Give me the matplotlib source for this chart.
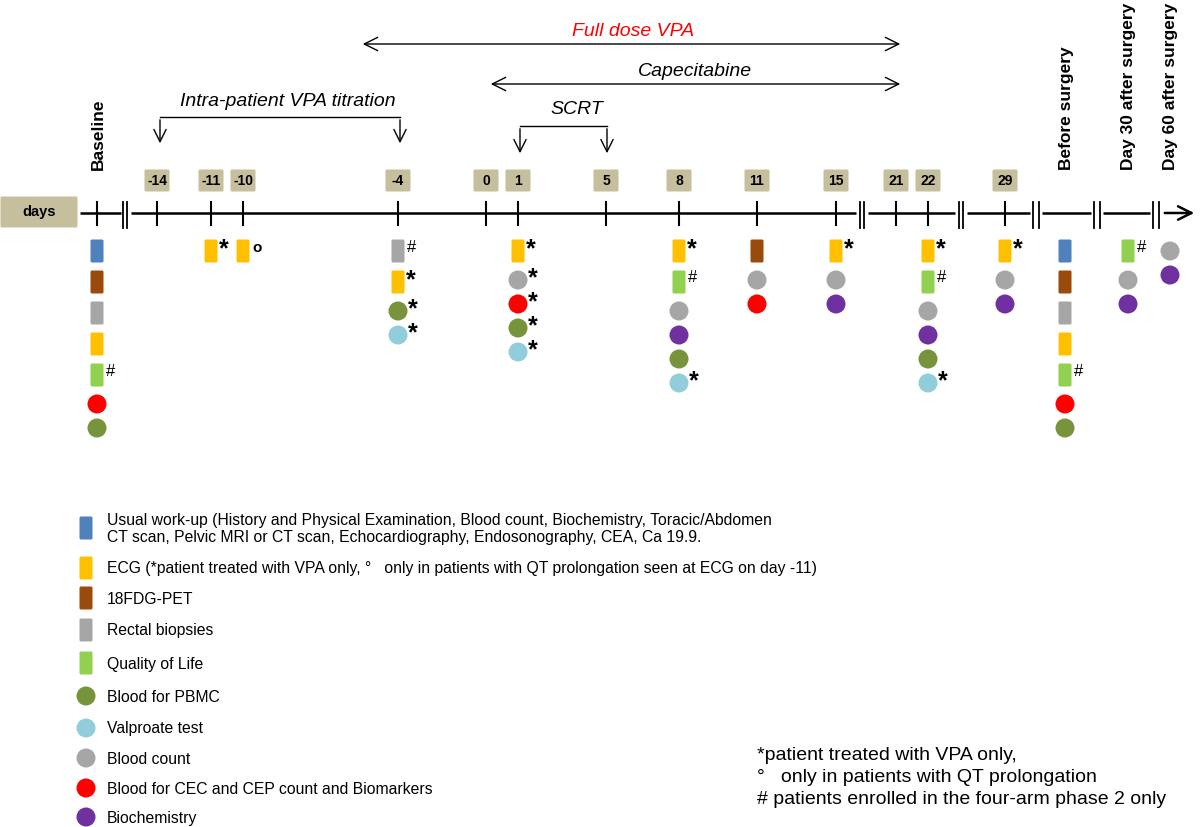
import matplotlib
matplotlib.use("Agg")
import matplotlib.pyplot as plt
from matplotlib.patches import FancyBboxPatch, Circle

plt.rcParams['font.family'] = ['Liberation Sans', 'DejaVu Sans']

# timeline columns (label, x position on the drawing)
day_labels = ['-14', '-11', '-10', '-4', '0', '1', '5', '8', '11', '15', '21', '22', '29']
day_x = [157, 211, 243, 398, 486, 518, 606, 679, 757, 836, 896, 928, 1005]
phase_labels = ['Baseline', 'Before surgery', 'Day 30 after surgery', 'Day 60 after surgery']
phase_x = [97, 1065, 1128, 1170]
break_x = [125, 862, 961, 1036, 1097, 1156]

# assessments per visit: (item, footnote flag)
visits = {
    'Baseline': [('workup', ''), ('pet', ''), ('biopsy', ''), ('ecg', ''), ('qol', '#'), ('cec', ''), ('pbmc', '')],
    '-11': [('ecg', '*')],
    '-10': [('ecg', 'o')],
    '-4': [('biopsy', '#'), ('ecg', '*'), ('pbmc', '*'), ('vpa', '*')],
    '1': [('ecg', '*'), ('bc', '*'), ('cec', '*'), ('pbmc', '*'), ('vpa', '*')],
    '8': [('ecg', '*'), ('qol', '#'), ('bc', ''), ('biochem', ''), ('pbmc', ''), ('vpa', '*')],
    '11': [('pet', ''), ('bc', ''), ('cec', '')],
    '15': [('ecg', '*'), ('bc', ''), ('biochem', '')],
    '22': [('ecg', '*'), ('qol', '#'), ('bc', ''), ('biochem', ''), ('pbmc', ''), ('vpa', '*')],
    '29': [('ecg', '*'), ('bc', ''), ('biochem', '')],
    'Before surgery': [('workup', ''), ('pet', ''), ('biopsy', ''), ('ecg', ''), ('qol', '#'), ('cec', ''), ('pbmc', '')],
    'Day 30 after surgery': [('qol', '#'), ('bc', ''), ('biochem', '')],
    'Day 60 after surgery': [('bc', ''), ('biochem', '')],
}

# legend items: key, shape, colour, text
legend_keys = ['workup', 'ecg', 'pet', 'biopsy', 'qol', 'pbmc', 'vpa', 'bc', 'cec', 'biochem']
legend_shapes = ['rect', 'rect', 'rect', 'rect', 'rect', 'circle', 'circle', 'circle', 'circle', 'circle']
legend_colors = ['#4f81bd', '#ffc000', '#9a4a0b', '#a6a6a6', '#92d050',
                 '#77933c', '#92cddc', '#a6a6a6', '#ff0000', '#7030a0']
legend_texts = [
    'Usual work-up (History and Physical Examination, Blood count, Biochemistry, Toracic/Abdomen\n'
    'CT scan, Pelvic MRI or CT scan, Echocardiography, Endosonography, CEA, Ca 19.9.',
    'ECG (*patient treated with VPA only, \u00b0   only in patients with QT prolongation seen at ECG on day -11)',
    '18FDG-PET',
    'Rectal biopsies',
    'Quality of Life',
    'Blood for PBMC',
    'Valproate test',
    'Blood count',
    'Blood for CEC and CEP count and Biomarkers',
    'Biochemistry',
]
legend_y = [528, 568, 598, 630, 663, 696, 728, 758, 788, 817]

footnotes = ['*patient treated with VPA only,',
             '\u00b0   only in patients with QT prolongation',
             '# patients enrolled in the four-arm phase 2 only']

shape = dict(zip(legend_keys, legend_shapes))
color = dict(zip(legend_keys, legend_colors))
tan = '#c6bf9d'

fig = plt.figure(figsize=(12, 8.27), dpi=100)
ax = fig.add_axes([0, 0, 1, 1])
ax.set_xlim(0, 1200)
ax.set_ylim(827, 0)
ax.axis('off')


def draw_mark(x, y, kind, c):
    if kind == 'rect':
        ax.add_patch(FancyBboxPatch((x - 5, y - 10), 10, 20, boxstyle='round,pad=1.5',
                                    fc=c, ec='none'))
    else:
        ax.add_patch(Circle((x, y), 9.5, fc=c, ec='none'))


# main timeline
ty = 213
segs = [(80, 121)]
for a, b in zip(break_x[:-1], break_x[1:]):
    segs.append((a + 6, b - 6))
for a, b in segs:
    ax.plot([a, b], [ty, ty], color='black', lw=1.8, solid_capstyle='butt')
ax.annotate('', xy=(1197, ty), xytext=(break_x[-1] + 6, ty),
            arrowprops=dict(arrowstyle='->', lw=1.8, color='black', mutation_scale=24))
for i, bx in enumerate(break_x):
    d = 2 if i < 3 else 3
    for dx in (-d, d):
        ax.plot([bx + dx, bx + dx], [202, 228], color='black', lw=1.3)
for x in [phase_x[0]] + day_x:
    ax.plot([x, x], [202, 225], color='black', lw=1.5)

# days box
ax.add_patch(FancyBboxPatch((2, 198), 74, 28, boxstyle='round,pad=1.5', fc=tan, ec='none'))
ax.text(39, 212, 'days', ha='center', va='center', fontsize=10.5, fontweight='bold')

# day boxes
for lab, x in zip(day_labels, day_x):
    ax.add_patch(FancyBboxPatch((x - 11, 171), 22, 19, boxstyle='round,pad=1.5', fc=tan, ec='none'))
    ax.text(x, 181, lab, ha='center', va='center', fontsize=10, fontweight='bold')

# phase labels (vertical)
for lab, x in zip(phase_labels, phase_x):
    ax.text(x + 1, 170, lab, rotation=90, ha='center', va='bottom', fontsize=12.5, fontweight='bold')

# treatment spans
ax.annotate('', xy=(360, 44), xytext=(903, 44),
            arrowprops=dict(arrowstyle='<->', lw=1, color='black', mutation_scale=24))
ax.text(633, 31, 'Full dose VPA', ha='center', va='center', fontsize=14, style='italic', color='#ff0000')
ax.annotate('', xy=(488, 84), xytext=(903, 84),
            arrowprops=dict(arrowstyle='<->', lw=1, color='black', mutation_scale=24))
ax.text(695, 72, 'Capecitabine', ha='center', va='center', fontsize=14, style='italic')

# brackets
for (x0, x1, yb, ye, lab, lx, ly) in [(160, 400, 117, 146, 'Intra-patient VPA titration', 288, 101),
                                      (520, 607, 126, 156, 'SCRT', 577, 110)]:
    ax.plot([x0, x1], [yb, yb], color='black', lw=1)
    for x in (x0, x1):
        ax.annotate('', xy=(x, ye), xytext=(x, yb),
                    arrowprops=dict(arrowstyle='->', lw=1, color='black', mutation_scale=22))
    ax.text(lx, ly, lab, ha='center', va='center', fontsize=14, style='italic')

# assessments
col_pos = dict(zip(day_labels, day_x))
col_pos.update(zip(phase_labels, phase_x))
for col, items in visits.items():
    x = col_pos[col]
    y = 251
    prev = None
    for key, flag in items:
        kind = shape[key]
        if prev is not None:
            if prev == 'rect' and kind == 'rect':
                y += 31
            elif prev == 'rect':
                y += 29
            else:
                y += 24
        draw_mark(x, y, kind, color[key])
        off = 8 if kind == 'rect' else 10
        if flag == '*':
            ax.text(x + off, y - 2, '*', ha='left', va='center', fontsize=18, fontweight='bold')
        elif flag == '#':
            ax.text(x + off + 1, y - 4, '#', ha='left', va='center', fontsize=12)
        elif flag == 'o':
            ax.text(x + off + 1, y - 3, 'o', ha='left', va='center', fontsize=11, fontweight='bold')
        prev = kind

# legend
for key, txt, ly in zip(legend_keys, legend_texts, legend_y):
    draw_mark(86, ly, shape[key], color[key])
    ax.text(107, ly + 1, txt, ha='left', va='center', fontsize=11.3, linespacing=1.2)

# footnotes
for i, t in enumerate(footnotes):
    ax.text(757, 756 + 22 * i, t, ha='left', va='center', fontsize=14)

fig.savefig('out.png', dpi=100, facecolor='white')
